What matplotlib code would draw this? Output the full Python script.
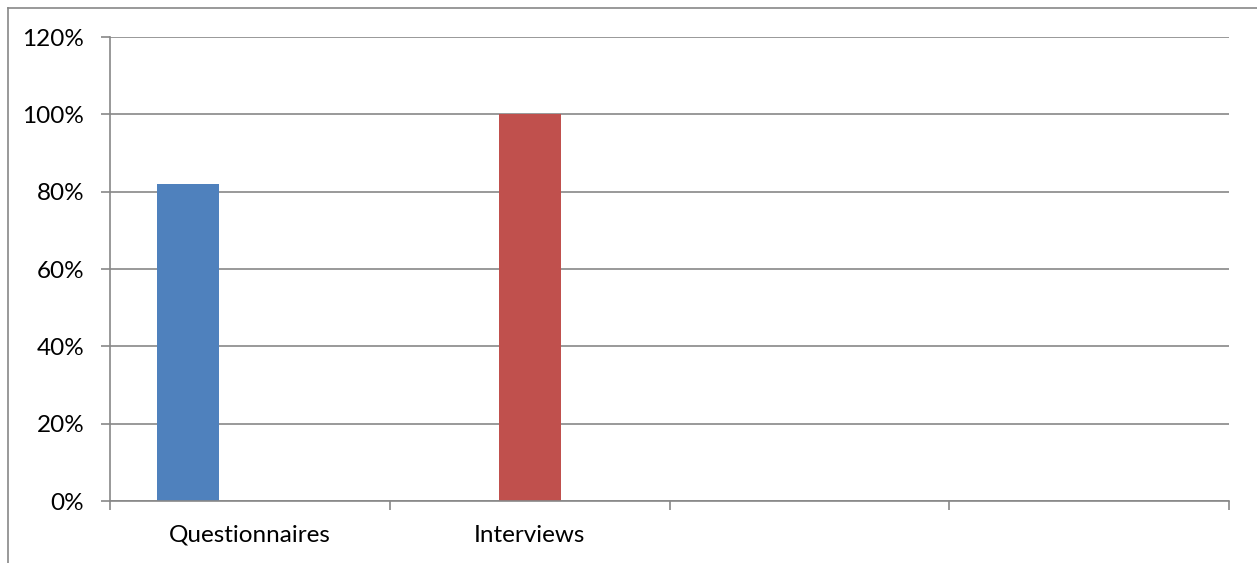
import numpy as np
import matplotlib
matplotlib.use('Agg')
from matplotlib import pyplot as plt
from matplotlib.ticker import PercentFormatter
from matplotlib.lines import Line2D

categories = ["Questionnaires", "Interviews", "", ""]
series1 = [0.82, np.nan, np.nan, np.nan]   # blue
series2 = [np.nan, 1.00, np.nan, np.nan]   # red
yticks = [0, 0.2, 0.4, 0.6, 0.8, 1.0, 1.2]

plt.rcParams['font.family'] = ['Lato', 'DejaVu Sans']
grey = '#878787'
lw = 1.2

fig = plt.figure(figsize=(12.57, 5.63), dpi=100)
ax = fig.add_axes([110/1257, 1 - 501/563, (1229 - 110)/1257, (501 - 37)/563])

x = np.arange(len(categories))
w = 1 / 4.5  # three series slots, gap width 150%
ax.bar(x - w, series1, w, color='#4F81BD')
ax.bar(x, series2, w, color='#C0504D')

ax.set_xlim(-0.5, len(categories) - 0.5)
ax.set_ylim(0, 1.2)
ax.set_yticks(yticks)
ax.yaxis.set_major_formatter(PercentFormatter(1.0, decimals=0))
ax.yaxis.grid(True, color=grey, linewidth=lw)
ax.set_axisbelow(True)

# category labels centred, ticks at slot boundaries
ax.set_xticks(np.arange(len(categories) + 1) - 0.5)
ax.set_xticklabels([])
ax.set_xticks(x, categories, minor=True)
ax.tick_params(axis='x', which='minor', length=0, labelsize=17.5, pad=17)
ax.tick_params(axis='x', which='major', length=6.5, width=lw, color=grey)
ax.tick_params(axis='y', length=6.5, width=lw, color=grey, labelsize=17.5, pad=12)

for s in ['top', 'right']:
    ax.spines[s].set_visible(False)
for s in ['left', 'bottom']:
    ax.spines[s].set_color(grey)
    ax.spines[s].set_linewidth(lw)

# outer chart frame (left and top edges visible)
fig.add_artist(Line2D([8/1257, 8/1257], [0, 1 - 8/563], color=grey, linewidth=lw,
                      transform=fig.transFigure))
fig.add_artist(Line2D([8/1257, 1], [1 - 8/563, 1 - 8/563], color=grey, linewidth=lw,
                      transform=fig.transFigure))

fig.savefig('out.png', dpi=100)
